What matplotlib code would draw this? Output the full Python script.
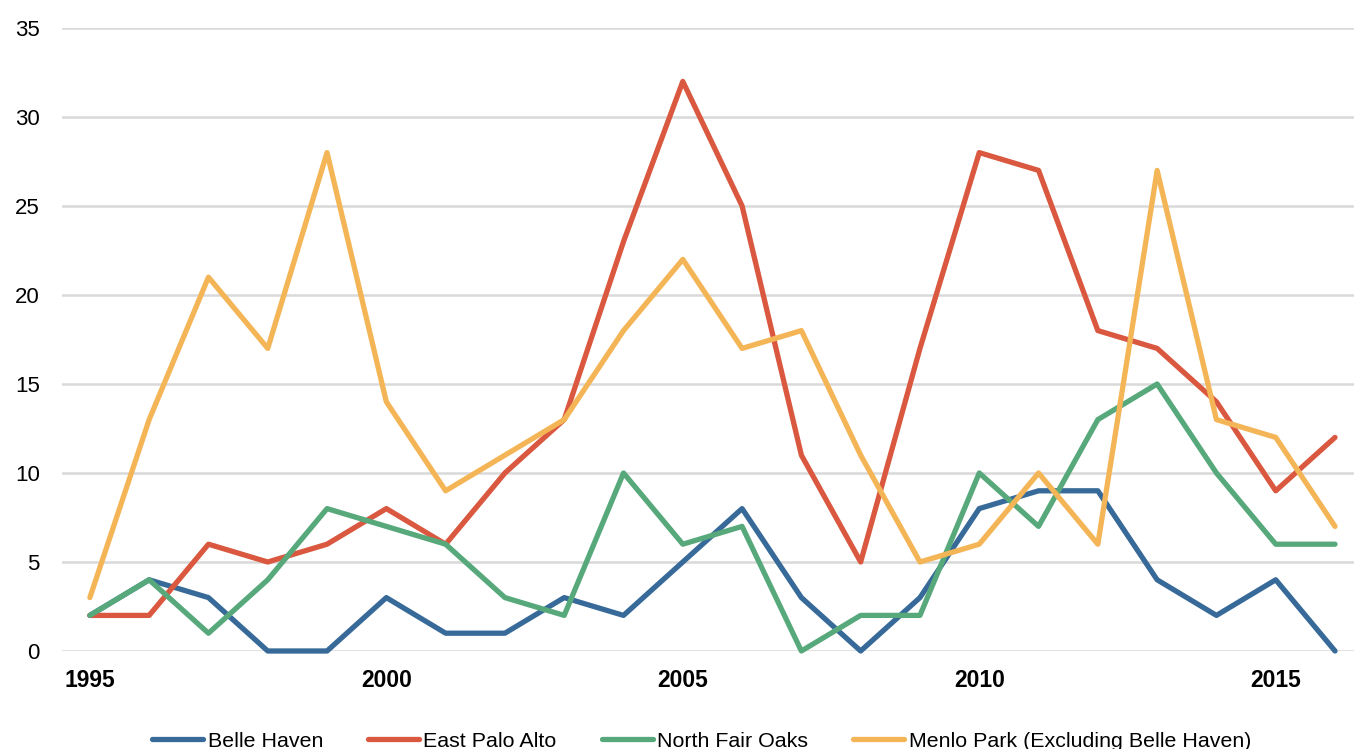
import numpy as np
import matplotlib
matplotlib.use("Agg")
from matplotlib import pyplot as plt

# yıllar ve seriler
years = list(range(1995, 2017))
belle_haven = [2, 4, 3, 0, 0, 3, 1, 1, 3, 2, 5, 8, 3, 0, 3, 8, 9, 9, 4, 2, 4, 0]
east_palo_alto = [2, 2, 6, 5, 6, 8, 6, 10, 13, 23, 32, 25, 11, 5, 17, 28, 27, 18, 17, 14, 9, 12]
north_fair_oaks = [2, 4, 1, 4, 8, 7, 6, 3, 2, 10, 6, 7, 0, 2, 2, 10, 7, 13, 15, 10, 6, 6]
menlo_park = [3, 13, 21, 17, 28, 14, 9, 11, 13, 18, 22, 17, 18, 11, 5, 6, 10, 6, 27, 13, 12, 7]

series_names = ["Belle Haven", "East Palo Alto", "North Fair Oaks",
                "Menlo Park (Excluding Belle Haven)"]
series_colors = ["#376A98", "#D9583F", "#57A97B", "#F4B557"]
xtick_years = [1995, 2000, 2005, 2010, 2015]
ytick_vals = [0, 5, 10, 15, 20, 25, 30, 35]

plt.rcParams['font.family'] = ['Liberation Sans', 'DejaVu Sans']

fig = plt.figure(figsize=(13.54, 7.49), dpi=100)
ax = fig.add_axes([62 / 1354, 1 - 651 / 749, 1 - 62 / 1354, (651 - 28) / 749])

for vals, name, col in zip([belle_haven, east_palo_alto, north_fair_oaks, menlo_park],
                           series_names, series_colors):
    ax.plot(years, vals, color=col, lw=3.8, label=name,
            solid_capstyle='round', solid_joinstyle='round', clip_on=False)

ax.set_xlim(1994.53, 2016.32)
ax.set_ylim(0, 35)
ax.set_yticks(ytick_vals)
ax.set_xticks(xtick_years)
ax.set_xticklabels([str(y) for y in xtick_years], fontweight='bold', fontsize=16.5)
ax.tick_params(axis='y', labelsize=16, length=0, pad=16)
ax.tick_params(axis='x', length=0, pad=13)

ax.grid(axis='y', color='#D9D9D9', lw=1.8)
ax.set_axisbelow(True)
for s in ax.spines.values():
    s.set_visible(False)

leg = ax.legend(loc='center', bbox_to_anchor=(0.495, -0.145), ncol=4, frameon=False,
                fontsize=15.4, handlelength=2.4, handletextpad=0.2, columnspacing=2.1)

fig.savefig("out.png", dpi=100)
